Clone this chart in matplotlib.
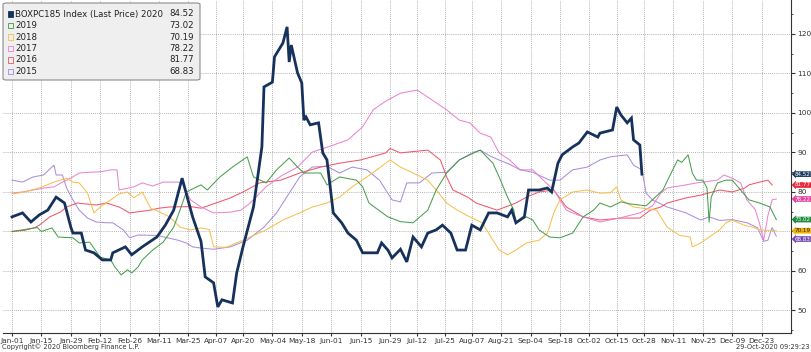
import numpy as np
import pandas as pd
import matplotlib
matplotlib.use("Agg")
import matplotlib.pyplot as plt
from matplotlib.patches import FancyBboxPatch, Rectangle

# days since Jan-01
days_2020 = [0, 5, 9, 13, 17, 21, 25, 28, 29, 33, 35, 39, 43, 47, 48, 54, 57, 62, 69, 73, 77, 81, 86, 90, 92, 96, 98,
             100, 105, 107, 110, 115, 119, 120, 124, 125, 129, 131, 132, 133, 136, 138, 139, 140, 142, 146, 148, 150,
             153, 157, 160, 164, 167, 174, 176, 179, 181, 185, 188, 191, 195, 198, 202, 205, 209, 212, 216, 219, 223,
             227, 231, 236, 238, 240, 244, 246, 251, 255, 257, 260, 262, 267, 270, 274, 279, 280, 286, 288, 290, 293,
             295, 296, 299, 300]
vals_2020 = [73.7, 74.7, 72.4, 74.2, 75.4, 78.7, 77.2, 71.1, 69.6, 69.6, 65.3, 64.6, 62.8, 62.8, 64.6, 66.1, 64.1, 66.1,
             68.6, 71.6, 75.4, 83.5, 73.7, 67.5, 58.5, 57.0, 50.9, 52.7, 51.9, 59.5, 66.1, 76.2, 91.4, 106.6, 107.8,
             114.2, 117.7, 121.8, 112.9, 117.2, 110.1, 107.6, 98.2, 99.0, 97.0, 97.5, 89.9, 88.1, 74.7, 72.2, 69.6,
             67.8, 64.6, 64.6, 67.1, 65.3, 63.3, 65.5, 62.3, 68.6, 66.1, 69.6, 70.4, 71.6, 69.6, 65.3, 65.3, 71.6, 70.4,
             74.7, 74.7, 73.7, 75.4, 72.2, 73.7, 80.5, 80.5, 81.0, 80.0, 87.3, 89.4, 91.4, 92.4, 95.2, 93.9, 94.9, 95.7,
             101.5, 99.5, 97.5, 98.7, 93.2, 91.9, 84.52]

days_2019 = [0, 6, 12, 14, 19, 22, 29, 32, 37, 42, 47, 49, 52, 55, 57, 60, 62, 67, 72, 77, 80, 83, 90, 93, 99, 105,
             112, 115, 121, 126, 132, 136, 139, 147, 150, 156, 164, 167, 170, 179, 185, 191, 198, 202, 207, 213, 220,
             223, 229, 232, 236, 239, 240, 245, 248, 251, 256, 261, 267, 272, 277, 280, 285, 290, 294, 302, 305, 310,
             313, 317, 319, 322, 324, 326, 329, 331, 332, 333, 336, 340, 343, 347, 351, 356, 361, 364]
vals_2019 = [70.0, 70.5, 71.0, 70.0, 70.9, 68.6, 68.4, 67.1, 67.3, 63.5, 62.8, 61.0, 59.0, 60.3, 59.5, 61.0, 62.8, 65.3,
             67.3, 71.1, 75.4, 80.0, 81.8, 80.5, 83.8, 86.3, 88.9, 83.8, 82.3, 85.6, 88.6, 86.3, 84.8, 84.8, 81.8, 83.8,
             83.0, 81.3, 77.2, 73.7, 72.5, 72.2, 75.4, 80.5, 84.8, 88.1, 89.9, 90.6, 87.3, 83.8, 78.7, 75.4, 72.2, 73.7,
             72.9, 70.4, 68.6, 68.4, 69.6, 73.7, 75.4, 77.2, 76.2, 77.5, 77.0, 76.5, 78.0, 80.5, 83.8, 88.1, 87.5, 89.4,
             84.8, 83.0, 83.0, 81.0, 72.4, 78.7, 82.3, 83.0, 83.0, 80.5, 78.0, 77.2, 76.2, 73.02]

days_2018 = [0, 6, 13, 20, 23, 26, 29, 32, 36, 39, 42, 47, 51, 55, 58, 62, 66, 70, 75, 80, 85, 90, 94, 96, 102, 110,
             121, 129, 137, 143, 150, 156, 162, 169, 175, 180, 185, 191, 198, 202, 207, 212, 218, 224, 229, 232, 236,
             240, 245, 251, 255, 258, 261, 267, 274, 280, 285, 288, 290, 296, 307, 312, 318, 323, 324, 328, 332, 337,
             340, 343, 349, 353, 356, 364]
vals_2018 = [79.5, 80.0, 81.0, 82.5, 83.0, 83.5, 82.5, 82.3, 79.7, 74.7, 76.2, 78.0, 79.5, 80.0, 78.5, 80.0, 75.9, 75.0,
             73.7, 71.1, 70.4, 70.9, 70.5, 66.1, 66.0, 67.8, 70.4, 72.9, 74.7, 76.2, 77.2, 78.7, 81.3, 83.8, 86.1, 88.1,
             86.3, 84.8, 83.0, 80.5, 77.2, 75.4, 73.7, 72.2, 67.8, 65.3, 64.1, 65.3, 67.1, 67.8, 69.6, 74.7, 78.0, 80.0,
             80.5, 79.7, 79.8, 81.3, 78.0, 76.2, 75.4, 71.1, 69.0, 68.6, 66.1, 67.1, 68.6, 70.4, 72.2, 72.9, 71.5, 71.1,
             70.4, 70.19]

days_2017 = [0, 5, 10, 15, 20, 24, 28, 32, 37, 42, 47, 50, 51, 58, 62, 67, 72, 79, 81, 85, 90, 96, 104, 109, 113, 121,
             128, 136, 143, 151, 160, 167, 172, 178, 185, 193, 200, 207, 213, 218, 223, 228, 232, 237, 242, 248, 253,
             258, 261, 264, 267, 272, 277, 280, 290, 299, 305, 309, 312, 321, 326, 336, 339, 343, 347, 350, 354, 356,
             358, 360, 362, 364]
vals_2017 = [79.7, 80.0, 80.5, 81.0, 81.3, 82.5, 83.5, 84.8, 85.0, 85.1, 85.6, 85.6, 80.5, 81.3, 82.3, 81.5, 82.5, 82.5,
             82.3, 78.0, 76.2, 74.7, 74.9, 75.4, 77.0, 81.3, 84.0, 86.3, 90.1, 91.5, 93.2, 96.5, 100.8, 103.0, 105.0,
             105.8, 103.3, 100.8, 98.2, 97.5, 94.9, 93.9, 89.9, 88.1, 85.6, 85.6, 83.0, 80.5, 78.0, 75.4, 74.7, 73.7,
             72.9, 72.4, 73.5, 74.7, 76.5, 79.7, 81.0, 81.8, 82.3, 83.0, 84.3, 83.5, 82.3, 78.0, 75.5, 72.0, 67.8, 74.0,
             78.0, 78.22]

days_2016 = [0, 6, 11, 13, 18, 23, 26, 31, 40, 45, 51, 56, 66, 70, 75, 85, 90, 96, 104, 110, 118, 128, 137, 147, 156,
             166, 178, 180, 185, 198, 204, 207, 210, 217, 221, 231, 240, 245, 251, 258, 264, 272, 280, 290, 299, 304,
             309, 312, 321, 328, 337, 343, 349, 351, 356, 360, 362]
vals_2016 = [70.0, 70.3, 71.0, 71.6, 73.7, 74.9, 76.2, 77.2, 76.7, 77.2, 76.2, 74.7, 75.4, 75.9, 76.2, 76.3, 75.9, 77.0,
             78.5, 80.0, 82.3, 83.0, 84.8, 86.3, 87.3, 88.1, 89.9, 91.0, 89.9, 90.6, 88.1, 83.8, 80.5, 78.7, 77.2, 75.4,
             77.2, 78.7, 80.0, 80.5, 76.2, 73.7, 72.9, 73.4, 73.4, 75.4, 76.2, 77.2, 78.5, 79.2, 80.5, 80.0, 81.0, 81.8,
             82.5, 83.0, 81.77]

days_2015 = [0, 5, 10, 15, 20, 21, 24, 26, 29, 32, 36, 40, 45, 48, 53, 56, 60, 69, 74, 79, 83, 86, 90, 96, 104, 112,
             120, 126, 132, 137, 143, 150, 156, 162, 169, 175, 181, 185, 188, 194, 200, 207, 213, 220, 223, 228, 232,
             237, 242, 248, 256, 261, 267, 274, 280, 285, 293, 296, 300, 302, 305, 312, 321, 328, 332, 337, 343, 350,
             355, 358, 360, 362, 364]
vals_2015 = [83.0, 82.5, 83.8, 84.3, 86.8, 84.3, 84.3, 81.0, 78.0, 75.4, 73.4, 72.4, 72.2, 72.2, 70.4, 68.4, 69.1, 69.0,
             68.4, 67.8, 67.1, 66.1, 65.8, 65.5, 66.1, 67.8, 71.1, 74.7, 79.7, 83.8, 86.3, 86.5, 84.8, 86.3, 85.6, 83.0,
             78.0, 77.5, 82.3, 82.3, 84.8, 85.0, 88.1, 90.1, 90.6, 89.0, 88.1, 87.0, 85.6, 85.0, 83.0, 83.0, 85.6, 86.3,
             88.1, 88.9, 89.4, 86.8, 85.6, 79.7, 78.0, 76.2, 74.7, 72.9, 73.7, 72.8, 73.0, 72.2, 71.0, 67.5, 67.8, 71.0,
             68.83]

series_names = ["BOXPC185 Index (Last Price) 2020", "2019", "2018", "2017", "2016", "2015"]
last_values = ["84.52", "73.02", "70.19", "78.22", "81.77", "68.83"]
x_labels = ["Jan-01", "Jan-15", "Jan-29", "Feb-12", "Feb-26", "Mar-11", "Mar-25", "Apr-07", "Apr-20", "May-04",
            "May-18", "Jun-01", "Jun-15", "Jun-29", "Jul-12", "Jul-25", "Aug-07", "Aug-21", "Sep-04", "Sep-18",
            "Oct-02", "Oct-15", "Oct-28", "Nov-11", "Nov-25", "Dec-09", "Dec-23"]
y_ticks = [50, 60, 70, 80, 90, 100, 110, 120]

line_colors = ["#16325c", "#3f9a45", "#f7bd45", "#e77fcf", "#ee4f64", "#a688d8"]
tag_colors = ["#1d3a5f", "#1f8a3c", "#f2b100", "#e3449f", "#e8283c", "#7448b0"]

series = [(days_2020, vals_2020), (days_2019, vals_2019), (days_2018, vals_2018),
          (days_2017, vals_2017), (days_2016, vals_2016), (days_2015, vals_2015)]

W, H = 811, 352
fig = plt.figure(figsize=(W / 100, H / 100), dpi=100)
ax = fig.add_axes([3 / W, 1 - 333 / H, (791 - 3) / W, 333 / H])

# draw older years first, 2020 on top
for i in range(len(series) - 1, -1, -1):
    d, v = series[i]
    if i == 0:
        ax.plot(d, v, color=line_colors[i], lw=2.0, zorder=5, solid_joinstyle="miter")
    else:
        ax.plot(d, v, color=line_colors[i], lw=0.75, zorder=3, alpha=0.95)

ax.set_xlim(-4.3, 371)
ax.set_ylim(44.3, 128.6)

base = pd.Timestamp("2020-01-01")
x_pos = [(pd.to_datetime(s + "-2020", format="%b-%d-%Y") - base).days for s in x_labels]
ax.set_xticks(x_pos)
ax.set_xticklabels(x_labels, fontsize=5.3, color="#333333")
ax.set_yticks(y_ticks)
# the 70 label sits under the value tags in the original
ax.set_yticklabels(["" if t == 70 else str(t) for t in y_ticks])
ax.set_yticks(np.arange(45, 126, 5), minor=True)
ax.yaxis.tick_right()
ax.tick_params(axis="y", which="major", labelsize=5.3, labelcolor="#333333", length=3, color="#333333", pad=1.5)
ax.tick_params(axis="y", which="minor", length=1.5, color="#333333")
ax.tick_params(axis="x", length=2, color="#333333", pad=1.5)
ax.grid(True, which="major", color="#9a9a9a", linestyle=(0, (1, 1.5)), linewidth=0.6)
for s in ["top", "left"]:
    ax.spines[s].set_visible(False)
for s in ["bottom", "right"]:
    ax.spines[s].set_color("#333333")
    ax.spines[s].set_linewidth(0.8)

# last value tags on the right axis
tag_order = sorted(range(len(series)), key=lambda k: -float(last_values[k]))
prev = None
for k in tag_order:
    yv = float(last_values[k])
    if prev is not None and prev - yv < 2.1:
        yv = prev - 2.1
    prev = yv
    txt_col = "#222222" if k == 2 else "white"
    ax.annotate(last_values[k], xy=(1.0, yv), xycoords=("axes fraction", "data"),
                xytext=(2.6, 0), textcoords="offset points", fontsize=4.1, color=txt_col,
                va="center", ha="left", annotation_clip=False, zorder=10,
                bbox=dict(boxstyle="larrow,pad=0.06", fc=tag_colors[k], ec="none"))

# legend box
leg = FancyBboxPatch((3 / W, 1 - 80 / H), 197 / W, 77 / H, transform=fig.transFigure,
                     boxstyle="round,pad=0,rounding_size=0.004", fc="#efefef", ec="#8c8c8c", lw=0.8, zorder=20)
fig.patches.append(leg)
row_y = [14, 25.5, 37, 48.5, 60, 71.5]
for i, name in enumerate(series_names):
    yy = 1 - row_y[i] / H
    filled = i == 0
    sq = Rectangle((7.5 / W, yy - 2.8 / H), 5.5 / W, 5.5 / H, transform=fig.transFigure,
                   fc=line_colors[i] if filled else "none", ec=line_colors[i], lw=0.6, zorder=21)
    fig.patches.append(sq)
    fig.text(15 / W, yy, name, fontsize=6.2, color="#222222", va="center", ha="left", zorder=22)
    fig.text(194 / W, yy, last_values[i], fontsize=6.2, color="#222222", va="center", ha="right", zorder=22)

fig.text(2 / W, 1 - 347 / H, "Copyright\u00a9 2020 Bloomberg Finance L.P.", fontsize=4.8, color="#333333",
         va="center", ha="left")
fig.text(809 / W, 1 - 347 / H, "29-Oct-2020 09:29:23", fontsize=4.8, color="#333333", va="center", ha="right")

fig.savefig("out.png", dpi=100)
